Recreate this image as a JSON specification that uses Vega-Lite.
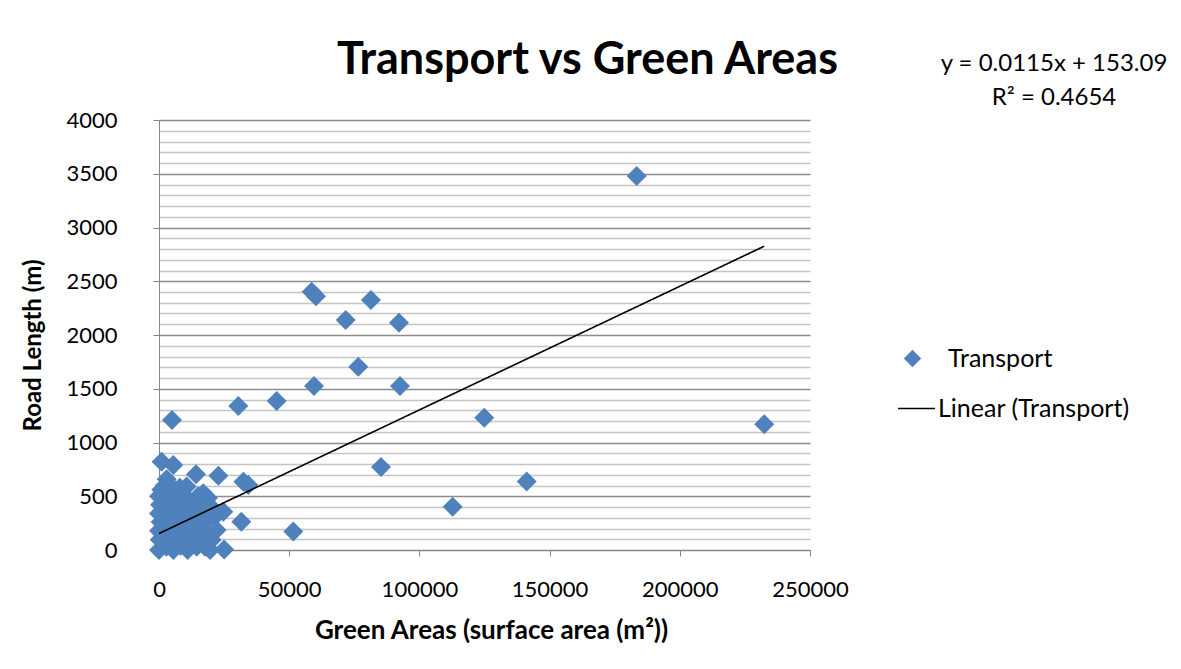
{
  "$schema": "https://vega.github.io/schema/vega-lite/v6.json",
  "width": 651,
  "height": 430,
  "autosize": "none",
  "padding": {"left": 159, "top": 120, "right": 371, "bottom": 119},
  "background": "white",
  "config": {"view": {"stroke": null}, "font": "Lato"},
  "title": {"text": "Transport vs Green Areas", "fontSize": 45, "fontWeight": "bold", "font": "Lato", "color": "black", "anchor": "middle", "dx": 103, "offset": -31},
  "resolve": {"scale": {"color": "independent"}},
  "datasets": {
    "points": [
      {"series": "Transport", "green_area": 0, "road_length": 0},
      {"series": "Transport", "green_area": 300, "road_length": 95},
      {"series": "Transport", "green_area": 0, "road_length": 180},
      {"series": "Transport", "green_area": 600, "road_length": 260},
      {"series": "Transport", "green_area": 0, "road_length": 340},
      {"series": "Transport", "green_area": 400, "road_length": 420},
      {"series": "Transport", "green_area": 0, "road_length": 500},
      {"series": "Transport", "green_area": 900, "road_length": 560},
      {"series": "Transport", "green_area": 2800, "road_length": 30},
      {"series": "Transport", "green_area": 3200, "road_length": 130},
      {"series": "Transport", "green_area": 2500, "road_length": 220},
      {"series": "Transport", "green_area": 3500, "road_length": 300},
      {"series": "Transport", "green_area": 2700, "road_length": 390},
      {"series": "Transport", "green_area": 3300, "road_length": 470},
      {"series": "Transport", "green_area": 2950, "road_length": 658},
      {"series": "Transport", "green_area": 2200, "road_length": 600},
      {"series": "Transport", "green_area": 5500, "road_length": 0},
      {"series": "Transport", "green_area": 6000, "road_length": 90},
      {"series": "Transport", "green_area": 5000, "road_length": 170},
      {"series": "Transport", "green_area": 6500, "road_length": 250},
      {"series": "Transport", "green_area": 5200, "road_length": 330},
      {"series": "Transport", "green_area": 6200, "road_length": 410},
      {"series": "Transport", "green_area": 5000, "road_length": 520},
      {"series": "Transport", "green_area": 6000, "road_length": 560},
      {"series": "Transport", "green_area": 8200, "road_length": 40},
      {"series": "Transport", "green_area": 9000, "road_length": 140},
      {"series": "Transport", "green_area": 8000, "road_length": 230},
      {"series": "Transport", "green_area": 9300, "road_length": 310},
      {"series": "Transport", "green_area": 8500, "road_length": 400},
      {"series": "Transport", "green_area": 9000, "road_length": 480},
      {"series": "Transport", "green_area": 8000, "road_length": 580},
      {"series": "Transport", "green_area": 11000, "road_length": 0},
      {"series": "Transport", "green_area": 12000, "road_length": 100},
      {"series": "Transport", "green_area": 11500, "road_length": 200},
      {"series": "Transport", "green_area": 12500, "road_length": 280},
      {"series": "Transport", "green_area": 11200, "road_length": 370},
      {"series": "Transport", "green_area": 12000, "road_length": 450},
      {"series": "Transport", "green_area": 10600, "road_length": 590},
      {"series": "Transport", "green_area": 14500, "road_length": 30},
      {"series": "Transport", "green_area": 15000, "road_length": 130},
      {"series": "Transport", "green_area": 14000, "road_length": 230},
      {"series": "Transport", "green_area": 15500, "road_length": 320},
      {"series": "Transport", "green_area": 14200, "road_length": 420},
      {"series": "Transport", "green_area": 15000, "road_length": 500},
      {"series": "Transport", "green_area": 14200, "road_length": 704},
      {"series": "Transport", "green_area": 17700, "road_length": 31},
      {"series": "Transport", "green_area": 18000, "road_length": 160},
      {"series": "Transport", "green_area": 17000, "road_length": 250},
      {"series": "Transport", "green_area": 19000, "road_length": 350},
      {"series": "Transport", "green_area": 17000, "road_length": 527},
      {"series": "Transport", "green_area": 18800, "road_length": 484},
      {"series": "Transport", "green_area": 19600, "road_length": 0},
      {"series": "Transport", "green_area": 20200, "road_length": 93},
      {"series": "Transport", "green_area": 22100, "road_length": 186},
      {"series": "Transport", "green_area": 21400, "road_length": 310},
      {"series": "Transport", "green_area": 19600, "road_length": 409},
      {"series": "Transport", "green_area": 22800, "road_length": 691},
      {"series": "Transport", "green_area": 24700, "road_length": 356},
      {"series": "Transport", "green_area": 25000, "road_length": 5},
      {"series": "Transport", "green_area": 31600, "road_length": 262},
      {"series": "Transport", "green_area": 32400, "road_length": 635},
      {"series": "Transport", "green_area": 34300, "road_length": 605},
      {"series": "Transport", "green_area": 1020, "road_length": 821},
      {"series": "Transport", "green_area": 5500, "road_length": 791},
      {"series": "Transport", "green_area": 5000, "road_length": 1209},
      {"series": "Transport", "green_area": 30450, "road_length": 1339},
      {"series": "Transport", "green_area": 45200, "road_length": 1386},
      {"series": "Transport", "green_area": 51570, "road_length": 172},
      {"series": "Transport", "green_area": 58640, "road_length": 2403},
      {"series": "Transport", "green_area": 60300, "road_length": 2360},
      {"series": "Transport", "green_area": 59520, "road_length": 1525},
      {"series": "Transport", "green_area": 71690, "road_length": 2139},
      {"series": "Transport", "green_area": 76530, "road_length": 1705},
      {"series": "Transport", "green_area": 81400, "road_length": 2325},
      {"series": "Transport", "green_area": 92160, "road_length": 2114},
      {"series": "Transport", "green_area": 92540, "road_length": 1525},
      {"series": "Transport", "green_area": 85250, "road_length": 772},
      {"series": "Transport", "green_area": 112780, "road_length": 403},
      {"series": "Transport", "green_area": 124900, "road_length": 1231},
      {"series": "Transport", "green_area": 141200, "road_length": 638},
      {"series": "Transport", "green_area": 183440, "road_length": 3479},
      {"series": "Transport", "green_area": 232440, "road_length": 1169}
    ],
    "trend": [
      {"series": "Linear (Transport)", "fit": "linear", "green_area": 0, "road_length": 153.09},
      {"series": "Linear (Transport)", "fit": "linear", "green_area": 232440, "road_length": 2826.2}
    ]
  },
  "encoding": {
    "x": {
      "field": "green_area", "type": "quantitative",
      "scale": {"domain": [0, 250000], "nice": false, "zero": true},
      "axis": {
        "values": [0, 50000, 100000, 150000, 200000, 250000],
        "format": "d", "grid": false, "tickSize": 6, "tickColor": "#868686", "domainColor": "#868686",
        "labelFontSize": 22, "labelColor": "black", "labelPadding": 23, "labelFlush": false, "labelOverlap": false,
        "title": "Green Areas (surface area (m²))", "titleFontSize": 26, "titleFontWeight": "bold", "titleColor": "black",
        "titleX": 332, "titleY": 80, "titleBaseline": "middle", "titleAlign": "center"
      }
    },
    "y": {
      "field": "road_length", "type": "quantitative",
      "scale": {"domain": [0, 4000], "nice": false},
      "axis": {
        "values": [0,100,200,300,400,500,600,700,800,900,1000,1100,1200,1300,1400,1500,1600,1700,1800,1900,2000,2100,2200,2300,2400,2500,2600,2700,2800,2900,3000,3100,3200,3300,3400,3500,3600,3700,3800,3900,4000],
        "format": "d",
        "labelExpr": "datum.value % 500 === 0 ? datum.label : ''",
        "tickOpacity": {"condition": {"test": "datum.value % 500 === 0", "value": 1}, "value": 0},
        "gridColor": {"condition": {"test": "datum.value % 500 === 0", "value": "#8C8C8C"}, "value": "#C4C4C4"},
        "gridWidth": 1.3,
        "tickSize": 6, "tickColor": "#868686", "domainColor": "#868686",
        "labelFontSize": 22, "labelColor": "black", "labelPadding": 36, "labelFlush": false, "labelOverlap": false,
        "title": "Road Length (m)", "titleFontSize": 24, "titleFontWeight": "bold", "titleColor": "black",
        "titleX": -126, "titleY": 225, "titleBaseline": "middle", "titleAlign": "center", "titleAngle": 270
      }
    }
  },
  "layer": [
    {
      "data": {"name": "points"},
      "mark": {"type": "point", "filled": true, "opacity": 1, "size": 400, "shape": "diamond"},
      "encoding": {
        "color": {
          "field": "series", "type": "nominal",
          "scale": {"domain": ["Transport"], "range": ["#4F81BD"]},
          "legend": {
            "orient": "none", "legendX": 741, "legendY": 226, "padding": 0, "title": null,
            "symbolType": "diamond", "symbolSize": 300,
            "labelFontSize": 25, "labelColor": "black", "labelFont": "Lato", "labelOffset": 23, "labelLimit": 400
          }
        }
      }
    },
    {
      "data": {"name": "trend"},
      "mark": {"type": "line", "strokeWidth": 1.6},
      "encoding": {
        "color": {
          "field": "series", "type": "nominal",
          "scale": {"domain": ["Linear (Transport)"], "range": ["#000000"]},
          "legend": {
            "orient": "none", "legendX": 738, "legendY": 269, "padding": 0, "title": null,
            "symbolType": "stroke", "symbolSize": 1369, "symbolStrokeWidth": 1.5,
            "labelFontSize": 25, "labelColor": "black", "labelFont": "Lato", "labelOffset": 2, "labelLimit": 400
          }
        },
        "strokeDash": {
          "field": "fit", "type": "nominal",
          "scale": {"domain": ["linear"], "range": [[1, 0]]},
          "legend": {
            "orient": "none", "legendX": 781, "legendY": -68, "padding": 0,
            "title": ["y = 0.0115x + 153.09", "R² = 0.4654"],
            "titleFontSize": 24, "titleFontWeight": "normal", "titleColor": "black", "titleFont": "Lato",
            "titleAlign": "center", "titleAnchor": "start", "titleLineHeight": 34, "titleLimit": 500,
            "labelExpr": "''", "symbolOpacity": 0, "symbolSize": 1, "labelFontSize": 1
          }
        }
      }
    }
  ]
}
